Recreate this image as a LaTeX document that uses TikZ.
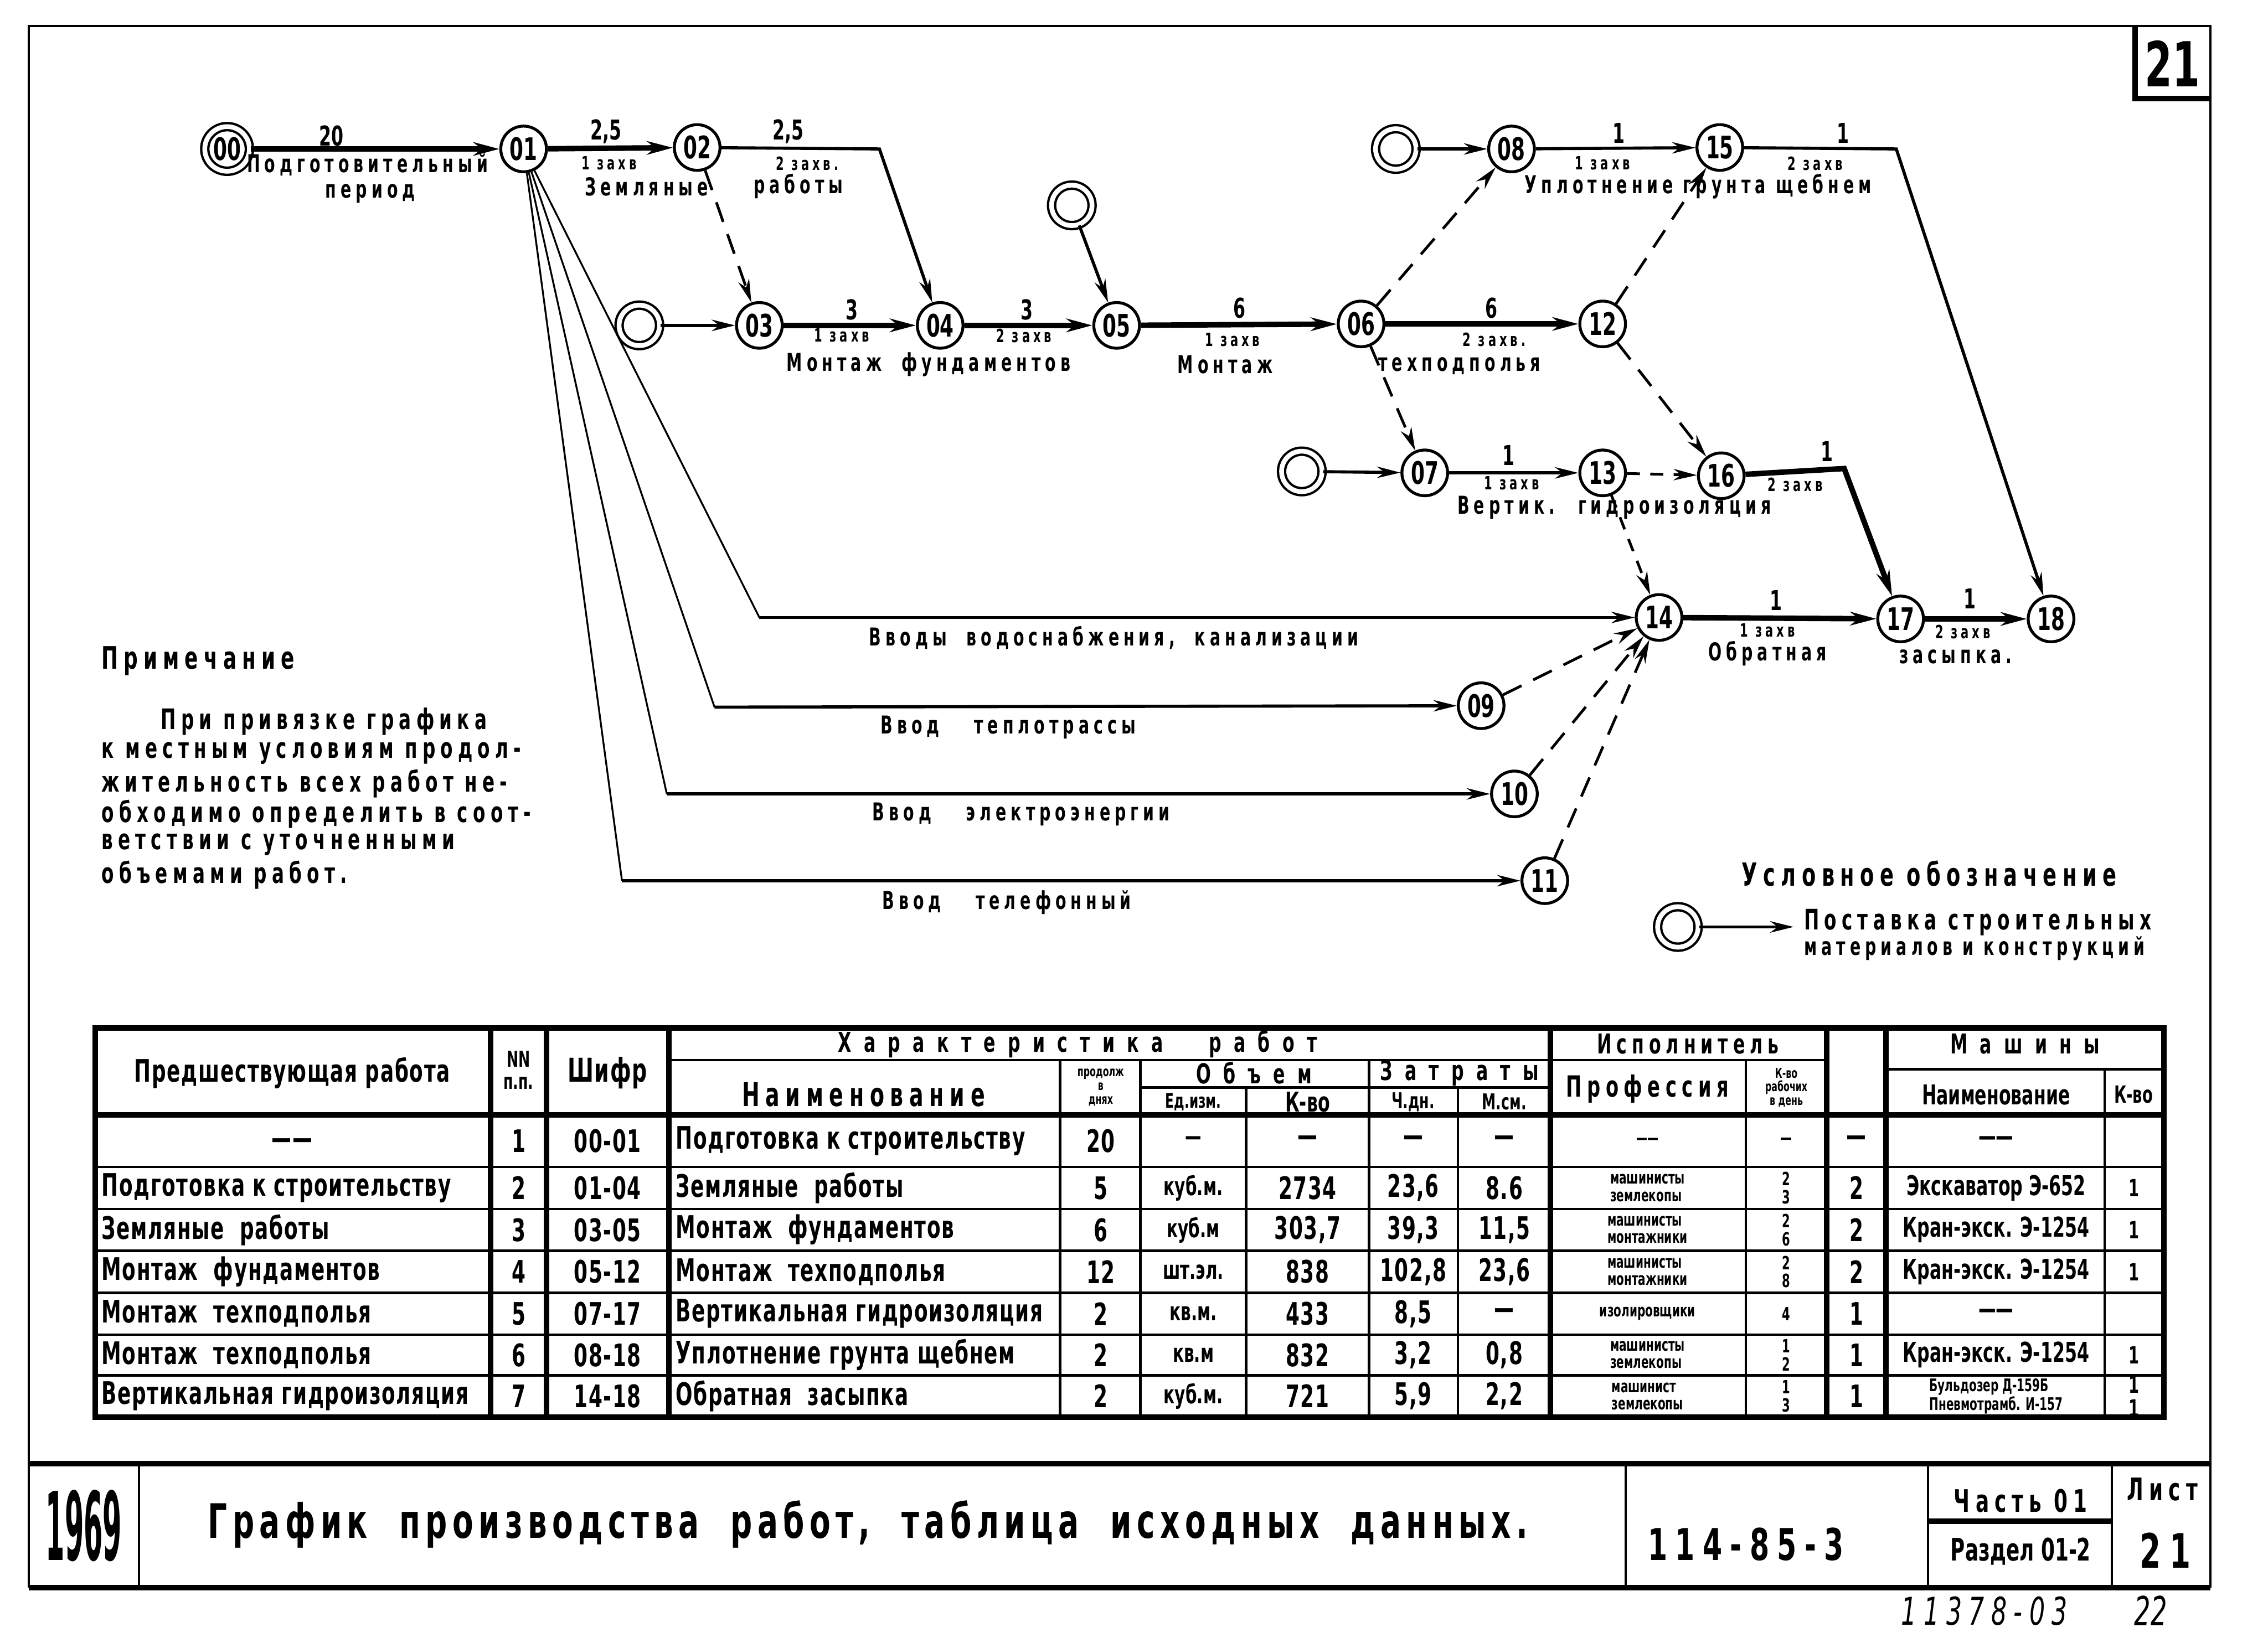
\documentclass[tikz,border=0pt]{standalone}
\usepackage{fontspec}
\usepackage{graphicx}
\setmainfont{DejaVu Sans}[FakeStretch=0.64]
\newfontfamily\cellsp{DejaVu Sans}[FakeStretch=0.64,LetterSpace=3]
\newfontfamily\spaced{DejaVu Sans}[FakeStretch=0.64,LetterSpace=18]
\newfontfamily\widesp{DejaVu Sans}[FakeStretch=0.64,LetterSpace=45]
\newfontfamily\titlesp{DejaVu Sans}[FakeStretch=0.64,LetterSpace=11]
\newcommand{\fsz}[1]{\fontsize{#1}{#1}\selectfont}
\usetikzlibrary{arrows.meta}

\tikzset{
  ev/.style={circle, draw, line width=1.6pt, minimum size=0.88cm, inner sep=0pt, fill=white, font=\bfseries\fsz{17}},
  src/.style={circle, draw, line width=1.3pt, double, double distance=2.6pt, minimum size=0.78cm, inner sep=0pt, font=\bfseries\fsz{17}},
  work/.style={line width=1.7pt, -{Stealth[length=4.5mm,width=2.2mm]}},
  crit/.style={line width=3pt, -{Stealth[length=5mm,width=2.6mm]}},
  dummy/.style={line width=1.5pt, dash pattern=on 4mm off 2.5mm, -{Stealth[length=4.5mm,width=2.2mm]}},
  feed/.style={line width=1pt},
  lbl/.style={font=\bfseries\spaced\fsz{13.5}, inner sep=0pt},
  zx/.style={font=\bfseries\spaced\fsz{10}, inner sep=0pt},
  num/.style={font=\bfseries\fsz{15}, inner sep=0pt},
  note/.style={font=\bfseries\spaced\fsz{15.5}, anchor=west, inner sep=0pt},
  cell/.style={font=\bfseries\cellsp\fsz{17}, inner sep=0pt},
  tiny/.style={font=\bfseries\fsz{7.5}, align=center, inner sep=0pt},
  small/.style={font=\bfseries\fsz{9.5}, align=left, inner sep=0pt},
  tline/.style={line width=1.4pt},
  heavy/.style={line width=3pt},
}

\begin{document}
\begin{tikzpicture}[x=0.02787cm, y=-0.02787cm]
\useasboundingbox (0,0) rectangle (1568,1136);

% frame
\draw[line width=1.2pt] (20,1098) -- (20,18) -- (1528,18) -- (1528,1098);
\draw[heavy] (1476,18) -- (1476,68) -- (1528,68);
\node[font=\bfseries\fsz{34}] (sheet) at (1502,44) {21};

% network
\node[src, minimum size=0.86cm] (n00) at (157,103) {00};
\node[ev] (n01) at (362,103) {01};
\node[ev] (n02) at (482,102) {02};
\node[src] (sA) at (442,225) {};
\node[ev] (n03) at (525,225) {03};
\node[ev] (n04) at (650,225) {04};
\node[src] (sB) at (741,142) {};
\node[ev] (n05) at (772,225) {05};
\node[ev] (n06) at (941,224) {06};
\node[ev] (n12) at (1108,224) {12};
\node[src] (sC) at (965,103) {};
\node[ev] (n08) at (1045,103) {08};
\node[ev] (n15) at (1189,102) {15};
\node[src] (sD) at (900,326) {};
\node[ev] (n07) at (985,327) {07};
\node[ev] (n13) at (1108,327) {13};
\node[ev] (n16) at (1190,329) {16};
\node[ev] (n14) at (1147,427) {14};
\node[ev] (n17) at (1314,428) {17};
\node[ev] (n18) at (1418,428) {18};
\node[ev] (n09) at (1024,488) {09};
\node[ev] (n10) at (1047,549) {10};
\node[ev] (n11) at (1068,609) {11};

\coordinate (c24) at (608,103);
\coordinate (c1518) at (1311,103);
\coordinate (c1617) at (1275,324);
\coordinate (w14) at (525,427);
\coordinate (w09) at (494,489);
\coordinate (w10) at (461,549);
\coordinate (w11) at (430,609);

\draw[crit] (n00) -- (n01);
\draw[crit] (n01) -- (n02);
\draw[work] (n02) -- (c24) -- (n04);
\draw[dummy] (n02) -- (n03);
\draw[work] (sA) -- (n03);
\draw[crit] (n03) -- (n04);
\draw[crit] (n04) -- (n05);
\draw[work] (sB) -- (n05);
\draw[crit] (n05) -- (n06);
\draw[crit] (n06) -- (n12);
\draw[dummy] (n06) -- (n08);
\draw[dummy] (n06) -- (n07);
\draw[work] (sC) -- (n08);
\draw[work] (n08) -- (n15);
\draw[work] (n15) -- (c1518) -- (n18);
\draw[dummy] (n12) -- (n15);
\draw[dummy] (n12) -- (n16);
\draw[work] (sD) -- (n07);
\draw[work] (n07) -- (n13);
\draw[dummy, dash pattern=on 2.5mm off 2mm] (n13) -- (n16);
\draw[dummy, dash pattern=on 2.5mm off 2mm] (n13) -- (n14);
\draw[crit] (n16) -- (c1617) -- (n17);
\draw[crit] (n14) -- (n17);
\draw[crit] (n17) -- (n18);
\draw[feed] (n01) -- (w14);
\draw[feed] (n01) -- (w09);
\draw[feed] (n01) -- (w10);
\draw[feed] (n01) -- (w11);
\draw[work] (w14) -- (n14);
\draw[work] (w09) -- (n09);
\draw[work] (w10) -- (n10);
\draw[work] (w11) -- (n11);
\draw[dummy] (n09) -- (n14);
\draw[dummy] (n10) -- (n14);
\draw[dummy] (n11) -- (n14);

% labels on works
\node[num] (t0001) at (229,94) {20};
\node[lbl] (l0001) at (254,114) {Подготовительный};
\node[lbl] (m0001) at (256,134) {период};
\node[num] (t0102) at (419,91) {2,5};
\node[zx] (z0102) at (421,113) {1 захв};
\node[lbl] (l0102) at (447,129) {Земляные};
\node[num] (t0204) at (545,91) {2,5};
\node[zx] (z0204) at (558,113) {2 захв.};
\node[lbl] (l0204) at (552,129) {работы};
\node[num] (t0304) at (589,214) {3};
\node[zx] (z0304) at (582,232) {1 захв};
\node[num] (t0405) at (710,214) {3};
\node[zx] (z0405) at (708,232) {2 захв};
\node[lbl] (l0305) at (642,252) {Монтаж \ фундаментов};
\node[num] (t0506) at (857,213) {6};
\node[zx] (z0506) at (852,235) {1 захв};
\node[lbl] (l0506) at (847,252) {Монтаж};
\node[num] (t0612) at (1031,213) {6};
\node[zx] (z0612) at (1033,235) {2 захв.};
\node[lbl] (l0612) at (1009,253) {техподполья};
\node[num] (t0815) at (1119,92) {1};
\node[zx] (z0815) at (1108,113) {1 захв};
\node[lbl] (l0815) at (1174,129) {Уплотнение грунта щебнем};
\node[num] (t1518) at (1274,92) {1};
\node[zx] (z1518) at (1255,113) {2 захв};
\node[num] (t0713) at (1043,315) {1};
\node[zx] (z0713) at (1045,334) {1 захв};
\node[lbl] (l0713) at (1116,351) {Вертик. \ гидроизоляция};
\node[num] (t1617) at (1263,312) {1};
\node[zx] (z1617) at (1241,335) {2 захв};
\node[num] (t1417) at (1228,415) {1};
\node[zx] (z1417) at (1222,436) {1 захв};
\node[lbl] (l1417) at (1222,452) {Обратная};
\node[num] (t1718) at (1362,414) {1};
\node[zx] (z1718) at (1357,437) {2 захв};
\node[lbl] (l1718) at (1352,454) {засыпка.};
\node[lbl] (lw14) at (770,441) {Вводы \ водоснабжения, \ канализации};
\node[lbl] (lw09) at (697,503) {Ввод \quad теплотрассы};
\node[lbl] (lw10) at (706,563) {Ввод \quad электроэнергии};
\node[lbl] (lw11) at (696,624) {Ввод \quad телефонный};

% note
\node[note, font=\bfseries\spaced\fsz{17}] (ntitle) at (70,457) {Примечание};
\node[note] (nl1) at (111,499) {При привязке графика};
\node[note] (nl2) at (70,521) {к местным условиям продол-};
\node[note] (nl3) at (70,542) {жительность всех работ не-};
\node[note] (nl4) at (70,563) {обходимо определить в соот-};
\node[note] (nl5) at (70,584) {ветствии с уточненными};
\node[note] (nl6) at (70,605) {объемами работ.};

% legend
\node[note, font=\bfseries\spaced\fsz{17.5}] (lgtitle) at (1204,604) {Условное обозначение};
\node[src] (lgsrc) at (1160,641) {};
\coordinate (lgend) at (1240,641);
\draw[work] (lgsrc) -- (lgend);
\node[note] (lg1) at (1247,638) {Поставка строительных};
\node[note, font=\bfseries\spaced\fsz{13.5}] (lg2) at (1247,656) {материалов и конструкций};

% table grid
\draw[heavy] (66,711) rectangle (1496,980);
\draw[heavy] (66,771) -- (1496,771);
\foreach \y in {807,836,865,894,923,951}
  \draw[tline] (66,\y) -- (1496,\y);
\foreach \x in {339,378,462.5,1072,1263,1304}
  \draw[heavy] (\x,711) -- (\x,980);
\foreach \x in {733,788.5,946.5,1207}
  \draw[tline] (\x,733) -- (\x,980);
\foreach \x in {861.5,1008}
  \draw[tline] (\x,752) -- (\x,980);
\draw[tline] (1455,739.5) -- (1455,980);
\draw[tline] (462.5,733) -- (1263,733);
\draw[tline] (788.5,752) -- (1072,752);
\draw[tline] (1304,739.5) -- (1496,739.5);

% table header
\node[cell] (h1) at (202,742) {Предшествующая работа};
\node[cell, font=\bfseries\fsz{12}, align=center] (h2) at (358.5,740) {NN\\п.п.};
\node[cell, font=\bfseries\cellsp\fsz{18}] (h3) at (420,742) {Шифр};
\node[cell, font=\bfseries\widesp\fsz{15}] (h4) at (745,722) {Характеристика \quad работ};
\node[cell, font=\bfseries\spaced\fsz{18}] (h5) at (597,757) {Наименование};
\node[tiny] (h6) at (761,752) {продолж\\в\\днях};
\node[cell, font=\bfseries\widesp\fsz{15}] (h7) at (867,742) {Объем};
\node[cell, font=\bfseries\widesp\fsz{15}] (h8) at (1009,742) {Затраты};
\node[cell, font=\bfseries\fsz{11}] (h9) at (825,762) {Ед.изм.};
\node[cell, font=\bfseries\fsz{15}] (h10) at (904,762) {К-во};
\node[cell, font=\bfseries\fsz{12}] (h11) at (977,762) {Ч.дн.};
\node[cell, font=\bfseries\fsz{12}] (h12) at (1040,762) {М.см.};
\node[cell, font=\bfseries\spaced\fsz{15}] (h13) at (1167,722) {Исполнитель};
\node[cell, font=\bfseries\spaced\fsz{16}] (h14) at (1139,753) {Профессия};
\node[tiny] (h15) at (1235,752) {К-во\\рабочих\\в день};
\node[cell, font=\bfseries\widesp\fsz{15}] (h16) at (1400,722) {Машины};
\node[cell, font=\bfseries\fsz{15}] (h17) at (1380,757) {Наименование};
\node[cell, font=\bfseries\fsz{13}] (h18) at (1475,757) {К-во};

% table rows
\node[cell] (r1-pa) at (202,791) {——};
\foreach \y/\pa/\n/\sh/\nm/\d/\u/\q/\ch/\ms/\pr/\kr/\kx/\mn/\mk [count=\i] in {
  789/{}/1/00-01/Подготовка к строительству/20/—/—/—/—/——/—/—/——/{},
  821.5/Подготовка к строительству/2/01-04/Земляные \ работы/5/куб.м./2734/{23,6}/8.6/{машинисты\\землекопы}/{2\\3}/2/Экскаватор Э-652/1,
  850.5/Земляные \ работы/3/03-05/Монтаж \ фундаментов/6/куб.м/{303,7}/{39,3}/{11,5}/{машинисты\\монтажники}/{2\\6}/2/Кран-экск. Э-1254/1,
  879.5/Монтаж \ фундаментов/4/05-12/Монтаж \ техподполья/12/шт.эл./838/{102,8}/{23,6}/{машинисты\\монтажники}/{2\\8}/2/Кран-экск. Э-1254/1,
  908.5/Монтаж \ техподполья/5/07-17/Вертикальная гидроизоляция/2/кв.м./433/{8,5}/—/изолировщики/4/1/——/{},
  937/Монтаж \ техподполья/6/08-18/Уплотнение грунта щебнем/2/кв.м/832/{3,2}/{0,8}/{машинисты\\землекопы}/{1\\2}/1/Кран-экск. Э-1254/1,
  965.5/Вертикальная гидроизоляция/7/14-18/Обратная \ засыпка/2/куб.м./721/{5,9}/{2,2}/{машинист\\землекопы}/{1\\3}/1/{}/{1\\1}}
{
  \node[cell, anchor=west] (r\i-p) at (70,\y) {\pa};
  \node[cell] (r\i-n) at (358.5,\y) {\n};
  \node[cell] (r\i-s) at (420,\y) {\sh};
  \node[cell, anchor=west] (r\i-nm) at (467,\y) {\nm};
  \node[cell] (r\i-d) at (761,\y) {\d};
  \node[cell, font=\bfseries\fsz{14}] (r\i-u) at (825,\y) {\u};
  \node[cell] (r\i-q) at (904,\y) {\q};
  \node[cell] (r\i-ch) at (977,\y) {\ch};
  \node[cell] (r\i-ms) at (1040,\y) {\ms};
  \node[small] (r\i-pr) at (1139,\y) {\pr};
  \node[tiny, font=\bfseries\fsz{10}] (r\i-kr) at (1235,\y) {\kr};
  \node[cell] (r\i-kx) at (1283.5,\y) {\kx};
  \node[cell, font=\bfseries\fsz{15}] (r\i-mn) at (1380,\y) {\mn};
  \node[tiny, font=\bfseries\fsz{13}] (r\i-mk) at (1475.5,\y) {\mk};
}
\node[small, align=left] (r7-mn) at (1380,965.5) {Бульдозер Д-159Б\\Пневмотрамб. И-157};

% title block
\draw[heavy] (20,1012) -- (1528,1012);
\draw[heavy] (20,1098) -- (1528,1098);
\draw[line width=1.2pt] (96,1012) -- (96,1098);
\draw[line width=1.2pt] (1124,1012) -- (1124,1098);
\draw[line width=1.2pt] (1333,1012) -- (1333,1098);
\draw[line width=1.2pt] (1460,1012) -- (1460,1098);
\draw[heavy] (1333,1052) -- (1460,1052);
\node[font=\bfseries] (year) at (58,1055) {\scalebox{0.45}[1]{\fsz{52}1969}};
\node[font=\bfseries\titlesp\fsz{26}] (title) at (600,1054) {График \ производства \ работ, \ таблица \ исходных \ данных.};
\node[font=\bfseries\spaced\fsz{24}] (code) at (1207,1068) {114-85-3};
\node[font=\bfseries\spaced\fsz{17}] (part) at (1397,1038) {Часть 01};
\node[font=\bfseries\fsz{17}] (sect) at (1397,1073) {Раздел 01-2};
\node[font=\bfseries\spaced\fsz{17}] (list) at (1495,1030) {Лист};
\node[font=\bfseries\spaced\fsz{26}] (listno) at (1497,1072) {21};
\node[font=\itshape\spaced\fsz{21}] (inv) at (1372,1114) {11378-03};
\node[font=\itshape\fsz{22}] (pg) at (1487,1114) {22};
\end{tikzpicture}
\end{document}
